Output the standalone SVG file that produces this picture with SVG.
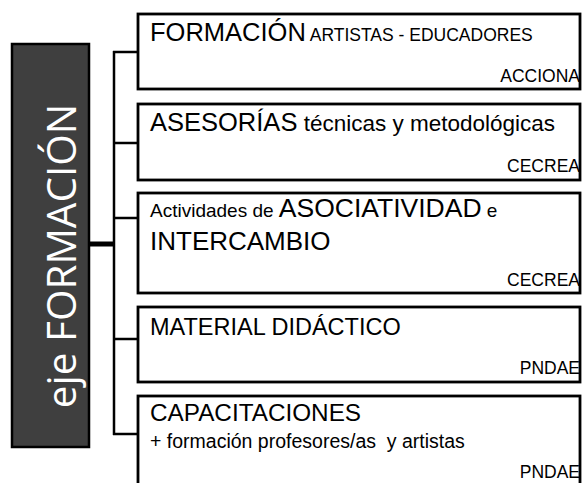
<svg xmlns="http://www.w3.org/2000/svg" width="582" height="483" viewBox="0 0 582 483">
<style>
.box{fill:#fff;stroke:#000;stroke-width:2.8}
.t{font-family:"Liberation Sans",Arial,sans-serif;fill:#000}
.big{font-size:25.5px}
.src{font-size:17.5px}
.conn{stroke:#000;stroke-width:2.5;fill:none}
</style>
<rect width="582" height="483" fill="#fff"/>
<g id="connectors">
<line class="conn" x1="114" y1="51" x2="114" y2="435"/>
<line class="conn" x1="113" y1="52" x2="139" y2="52"/>
<line class="conn" x1="113" y1="143" x2="139" y2="143"/>
<line class="conn" x1="113" y1="218" x2="139" y2="218"/>
<line class="conn" x1="113" y1="339" x2="139" y2="339"/>
<line class="conn" x1="113" y1="434" x2="139" y2="434"/>
<line x1="89" y1="244" x2="115" y2="244" stroke="#000" stroke-width="5"/>
</g>
<g id="eje">
<rect x="12" y="44" width="77" height="403" fill="#3f3f3f" stroke="#000" stroke-width="2.5"/>
<text transform="translate(76,256) rotate(-90)" text-anchor="middle" font-family="'Open Sans','Liberation Sans',sans-serif" font-size="40.5" fill="#fff">eje FORMACIÓN</text>
</g>
<g id="n1">
<rect class="box" x="138" y="14" width="442" height="75"/>
<text class="t" x="150" y="41"><tspan class="big">FORMACIÓN</tspan><tspan font-size="17.5"> ARTISTAS - EDUCADORES</tspan></text>
<text class="t src" x="580" y="82" text-anchor="end">ACCIONA</text>
</g>
<g id="n2">
<rect class="box" x="138" y="104" width="442" height="76"/>
<text class="t" x="150" y="131"><tspan class="big">ASESORÍAS</tspan><tspan font-size="22.5"> técnicas y metodológicas</tspan></text>
<text class="t src" x="580" y="172" text-anchor="end">CECREA</text>
</g>
<g id="n3">
<rect class="box" x="138" y="193" width="442" height="100"/>
<text class="t" x="150" y="217"><tspan font-size="19">Actividades de </tspan><tspan font-size="26.5">ASOCIATIVIDAD</tspan><tspan font-size="19"> e</tspan></text>
<text class="t" x="150" y="250" font-size="26">INTERCAMBIO</text>
<text class="t src" x="580" y="286" text-anchor="end">CECREA</text>
</g>
<g id="n4">
<rect class="box" x="138" y="307" width="442" height="75"/>
<text class="t" x="150" y="335" font-size="23.5">MATERIAL DIDÁCTICO</text>
<text class="t src" x="580" y="374" text-anchor="end">PNDAE</text>
</g>
<g id="n5">
<rect class="box" x="138" y="396" width="442" height="110"/>
<text class="t" x="150" y="421" font-size="24.3">CAPACITACIONES</text>
<text class="t" x="150" y="448" font-size="19.5" xml:space="preserve">+ formación profesores/as  y artistas</text>
<text class="t src" x="580" y="478" text-anchor="end">PNDAE</text>
</g>
</svg>
